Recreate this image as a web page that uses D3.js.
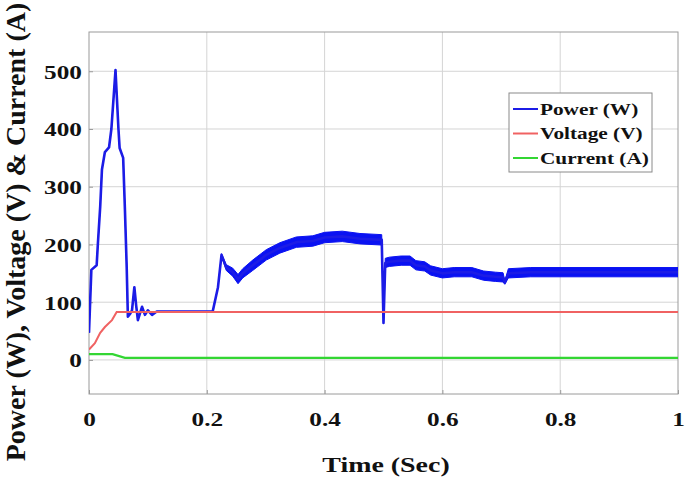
<!DOCTYPE html>
<html>
<head>
<meta charset="utf-8">
<script src="https://cdn.jsdelivr.net/npm/d3@7/dist/d3.min.js"></script>
<style>
    body { margin: 0; background: #fff; }
    svg text { font-family: "Liberation Serif", "Times New Roman", serif; font-weight: bold; fill: #111; }
</style>
</head>
<body>
<svg id="chart" width="685" height="480"></svg>
<script>
var xTicks = [0, 0.2, 0.4, 0.6, 0.8, 1];
var xTickLabels = ['0', '0.2', '0.4', '0.6', '0.8', '1'];
var yTicks = [0, 100, 200, 300, 400, 500];
var seriesNames = ['Power (W)', 'Voltage (V)', 'Current (A)'];
var seriesColors = ['#1c1ce6', '#f06262', '#33d633'];

// power: centre line and half width of the ripple band
var powerTime = [0, 0.004, 0.013, 0.015, 0.019, 0.022, 0.027, 0.034, 0.038, 0.045, 0.050, 0.052, 0.058,
    0.061, 0.064, 0.066, 0.070, 0.073, 0.077, 0.080, 0.083, 0.090, 0.095, 0.100, 0.107, 0.115, 0.210,
    0.219, 0.225, 0.233, 0.244, 0.253, 0.261, 0.278, 0.301, 0.324, 0.352, 0.380, 0.400, 0.430, 0.460,
    0.497, 0.500, 0.503, 0.510, 0.530, 0.545, 0.555, 0.570, 0.580, 0.600, 0.620, 0.650, 0.670, 0.690,
    0.703, 0.706, 0.712, 0.750, 1.0];
var powerValue = [47, 156, 164, 200, 265, 330, 360, 368, 400, 502, 400, 367, 350,
    260, 161, 75, 80, 86, 126, 95, 69, 92, 78, 86, 78, 84, 84,
    126, 182, 160, 152, 140, 150, 164, 182, 194, 204, 206, 212, 214, 210,
    208, 64, 168, 170, 172, 172, 164, 162, 155, 150, 152, 152, 146, 144,
    143, 134, 150, 152, 152];
var powerRipple = [0, 0, 0, 0, 0, 0, 0, 0, 0, 0, 0, 0, 0,
    0, 0, 0, 0, 0, 0, 0, 0, 0, 0, 0, 0, 0, 0,
    0, 2, 5, 7, 8, 8, 9, 9, 9, 9, 9, 9, 9, 9,
    9, 0, 8, 8, 8, 8, 8, 8, 8, 8, 8, 8, 8, 8,
    8, 3, 8, 8, 8];

var voltageTime = [0, 0.010, 0.019, 0.027, 0.039, 0.047, 0.200, 0.500, 1.0];
var voltageValue = [18, 29, 47, 57, 69, 83, 83, 83, 83];

var currentTime = [0, 0.040, 0.061, 1.0];
var currentValue = [10, 10, 3.5, 3.5];

var svg = d3.select('#chart');
var plotLeft = 89, plotRight = 678, plotTop = 32, plotBottom = 394;
var sx = 1.33;

var x = d3.scaleLinear().domain([0, 1]).range([plotLeft, plotRight]);
var y = d3.scaleLinear().domain([-59, 568]).range([plotBottom, plotTop]);

// grid
svg.append('g').selectAll('line')
    .data(xTicks.slice(1, -1))
    .enter().append('line')
    .attr('x1', function (d) { return x(d); })
    .attr('x2', function (d) { return x(d); })
    .attr('y1', plotTop).attr('y2', plotBottom)
    .style('stroke', '#d4d4d4');
svg.append('g').selectAll('line')
    .data(yTicks)
    .enter().append('line')
    .attr('y1', function (d) { return y(d); })
    .attr('y2', function (d) { return y(d); })
    .attr('x1', plotLeft).attr('x2', plotRight)
    .style('stroke', '#d4d4d4');

svg.append('rect')
    .attr('x', plotLeft).attr('y', plotTop)
    .attr('width', plotRight - plotLeft).attr('height', plotBottom - plotTop)
    .style('fill', 'none').style('stroke', '#9a9a9a');

// axes
var xAxis = svg.append('g')
    .attr('transform', 'translate(0,' + plotBottom + ')')
    .call(d3.axisBottom(x).tickValues(xTicks).tickSize(-4).tickPadding(0)
        .tickFormat(function (d, i) { return xTickLabels[i]; }));
var yAxis = svg.append('g')
    .attr('transform', 'translate(' + plotLeft + ',0)')
    .call(d3.axisLeft(y).tickValues(yTicks).tickSize(-4).tickPadding(0));

[xAxis, yAxis].forEach(function (g) {
    g.select('.domain').remove();
    g.selectAll('.tick line').style('stroke', '#9a9a9a');
    g.selectAll('.tick text')
        .style('font-size', '19px')
        .style('font-family', '"Liberation Serif", serif')
        .style('font-weight', 'bold')
        .attr('fill', '#111');
});
xAxis.selectAll('.tick text')
    .attr('y', 0).attr('dy', 0)
    .attr('transform', 'translate(0,32) scale(' + sx + ',1)');
yAxis.selectAll('.tick text')
    .attr('x', 0).attr('dy', 0)
    .attr('transform', 'translate(-7,7) scale(' + sx + ',1)');

// series
svg.append('clipPath').attr('id', 'plotClip')
    .append('rect').attr('x', plotLeft).attr('y', plotTop)
    .attr('width', plotRight - plotLeft).attr('height', plotBottom - plotTop);
var plot = svg.append('g').attr('clip-path', 'url(#plotClip)');

var powerData = powerTime.map(function (t, i) {
    return { t: t, v: powerValue[i], r: powerRipple[i] };
});
plot.append('path')
    .datum(powerData)
    .attr('d', d3.area()
        .x(function (d) { return x(d.t); })
        .y0(function (d) { return y(d.v - d.r); })
        .y1(function (d) { return y(d.v + d.r); }))
    .style('fill', '#0a12f2')
    .style('stroke', '#0a12f2')
    .style('stroke-width', 1);
plot.append('path')
    .datum(powerData)
    .attr('d', d3.line()
        .x(function (d) { return x(d.t); })
        .y(function (d) { return y(d.v); }))
    .style('fill', 'none')
    .style('stroke', seriesColors[0])
    .style('stroke-width', 2.6)
    .style('stroke-linejoin', 'round');

var line = d3.line()
    .x(function (d) { return x(d[0]); })
    .y(function (d) { return y(d[1]); });
plot.append('path')
    .datum(voltageTime.map(function (t, i) { return [t, voltageValue[i]]; }))
    .attr('d', line)
    .style('fill', 'none')
    .style('stroke', seriesColors[1])
    .style('stroke-width', 2);
plot.append('path')
    .datum(currentTime.map(function (t, i) { return [t, currentValue[i]]; }))
    .attr('d', line)
    .style('fill', 'none')
    .style('stroke', seriesColors[2])
    .style('stroke-width', 2.4);

// legend
var legend = svg.append('g').attr('transform', 'translate(509,93)');
legend.append('rect')
    .attr('width', 143).attr('height', 79)
    .style('fill', '#fff').style('stroke', '#8a8a8a');
var rows = legend.selectAll('.row')
    .data(seriesNames)
    .enter().append('g')
    .attr('class', 'row')
    .attr('transform', function (d, i) { return 'translate(0,' + (16 + i * 24.5) + ')'; });
rows.append('line')
    .attr('x1', 4).attr('x2', 29)
    .style('stroke', function (d, i) { return seriesColors[i]; })
    .style('stroke-width', 2);
rows.append('text')
    .attr('transform', 'translate(31,5.5) scale(' + sx + ',1)')
    .style('font-size', '16px')
    .text(function (d) { return d; });

// axis titles
svg.append('text')
    .attr('transform', 'translate(386,472) scale(' + sx + ',1)')
    .attr('text-anchor', 'middle')
    .style('font-size', '21px')
    .text('Time (Sec)');
svg.append('text')
    .attr('transform', 'translate(25,232) rotate(-90)')
    .attr('text-anchor', 'middle')
    .style('font-size', '28px')
    .text('Power (W), Voltage (V) & Current (A)');
</script>
</body>
</html>
